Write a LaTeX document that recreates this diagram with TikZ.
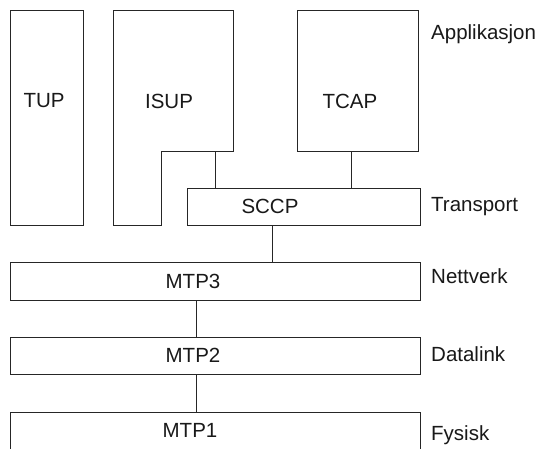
\documentclass[tikz,border=0pt]{standalone}
\usepackage{fontspec}
\setmainfont{Liberation Sans}
\begin{document}
\begin{tikzpicture}[x=1pt,y=-1pt,
  box/.style={draw=black!85,line width=0.9pt,rectangle,inner sep=0pt,outer sep=0pt},
  lbl/.style={font=\fontsize{20.5}{24}\selectfont,inner sep=0pt,text=black!90},
  side/.style={lbl,anchor=west},
  conn/.style={draw=black!85,line width=0.9pt}]
\clip (0,0) rectangle (544,448);
\fill[white] (0,0) rectangle (544,448);
% boxes
\node[box,minimum width=73,minimum height=215] (tup) at (46.5,117.5) {};
\draw[box] (113,10) -- (233,10) -- (233,151) -- (161,151) -- (161,225) -- (113,225) -- cycle;
\coordinate (isupb) at (215,151);
\node[box,minimum width=121,minimum height=141] (tcap) at (357.5,80.5) {};
\node[box,minimum width=233,minimum height=37] (sccp) at (303.5,206.5) {};
\node[box,minimum width=410,minimum height=38] (mtp3) at (215,281) {};
\node[box,minimum width=410,minimum height=37] (mtp2) at (215,355.5) {};
\node[box,minimum width=410,minimum height=60] (mtp1) at (215,442) {};
% texts
\node[lbl] (ttup) at (44,101) {TUP};
\node[lbl] (tisup) at (169,101) {ISUP};
\node[lbl] (ttcap) at (350,101) {TCAP};
\node[lbl] (tsccp) at (270,206) {SCCP};
\node[lbl] (tmtp3) at (193,281) {MTP3};
\node[lbl] (tmtp2) at (193,355) {MTP2};
\node[lbl] (tmtp1) at (190,430) {MTP1};
\node[side] (app) at (431,34) {Applikasjon};
\node[side] (tra) at (431,207) {Transport};
\node[side] (net) at (431,276) {Nettverk};
\node[side] (dat) at (431,354) {Datalink};
\node[side] (fys) at (431,435) {Fysisk};
% connectors
\draw[conn] (isupb) -- (isupb |- sccp.north);
\draw[conn] ([xshift=-6.5pt]tcap.south) -- ([xshift=-6.5pt]tcap.south |- sccp.north);
\draw[conn] ([xshift=-31.5pt]sccp.south) -- ([xshift=-31.5pt]sccp.south |- mtp3.north);
\draw[conn] ([xshift=-19pt]mtp3.south) -- ([xshift=-19pt]mtp3.south |- mtp2.north);
\draw[conn] ([xshift=-19pt]mtp2.south) -- ([xshift=-19pt]mtp2.south |- mtp1.north);
\end{tikzpicture}
\end{document}
